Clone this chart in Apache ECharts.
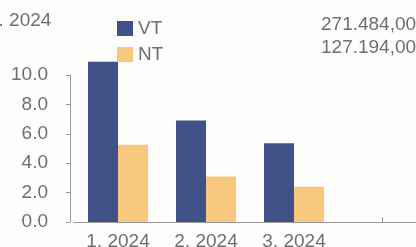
<!DOCTYPE html>
<html>
<head>
<meta charset="utf-8">
<script src="https://cdn.jsdelivr.net/npm/echarts@6/dist/echarts.min.js"></script>
<style>
  html, body { margin: 0; padding: 0; background: #fdfdfb; }
  #chart { width: 416px; height: 247px; }
</style>
</head>
<body>
<div id="chart"></div>
<script>
// daten
const categories = ['1. 2024', '2. 2024', '3. 2024', ''];
const vtValues = [10.9, 6.9, 5.35, null];
const ntValues = [5.25, 3.1, 2.4, null];
const yTicks = [0, 2, 4, 6, 8, 10];
const legendNames = ['VT', 'NT'];
const legendTotals = ['271.484,00', '127.194,00'];
const headerText = '3. 2024';

const textColor = '#6f6f6f';
const axisColor = '#9a9a9a';
const font = 'Liberation Sans, Arial, sans-serif';

const chart = echarts.init(document.getElementById('chart'));

chart.setOption({
    backgroundColor: '#fdfdfb',
    animation: false,
    grid: { left: 74, width: 352, top: 75, height: 147, outerBoundsMode: 'none', containLabel: false },
    legend: {
        data: legendNames,
        orient: 'vertical',
        left: 112,
        top: 14,
        itemWidth: 16,
        itemHeight: 15,
        itemGap: 7,
        icon: 'rect',
        textStyle: { color: textColor, fontSize: 19, fontFamily: font }
    },
    graphic: [
        {
            type: 'text', left: -12, top: 11,
            style: { text: headerText, fill: textColor, font: '19px ' + font }
        },
        {
            type: 'text', left: 321, top: 13,
            style: { text: legendTotals.join('\n'), fill: textColor, font: '19px ' + font, lineHeight: 23 }
        }
    ],
    xAxis: {
        type: 'category',
        data: categories,
        axisLine: { lineStyle: { color: axisColor, width: 1 } },
        axisTick: { show: true, alignWithLabel: true, inside: true, length: 5, lineStyle: { color: axisColor } },
        axisLabel: { color: textColor, fontSize: 19, fontFamily: font, margin: 10 }
    },
    yAxis: {
        type: 'value',
        min: yTicks[0],
        max: yTicks[yTicks.length - 1],
        interval: 2,
        offset: 4,
        splitLine: { show: false },
        axisLine: { show: true, lineStyle: { color: axisColor, width: 1 } },
        axisTick: { show: true, length: 4, lineStyle: { color: axisColor } },
        axisLabel: {
            color: textColor, fontSize: 19, fontFamily: font, margin: 22,
            padding: [0, 0, 8, 0],
            formatter: v => v.toFixed(1)
        }
    },
    series: [
        {
            name: legendNames[0], type: 'bar', data: vtValues,
            barWidth: 30, barGap: '0%', clip: false,
            itemStyle: { color: '#3f5187' }
        },
        {
            name: legendNames[1], type: 'bar', data: ntValues,
            barWidth: 30, barGap: '0%', clip: false,
            itemStyle: { color: '#f6c77d' }
        }
    ]
});
</script>
</body>
</html>
